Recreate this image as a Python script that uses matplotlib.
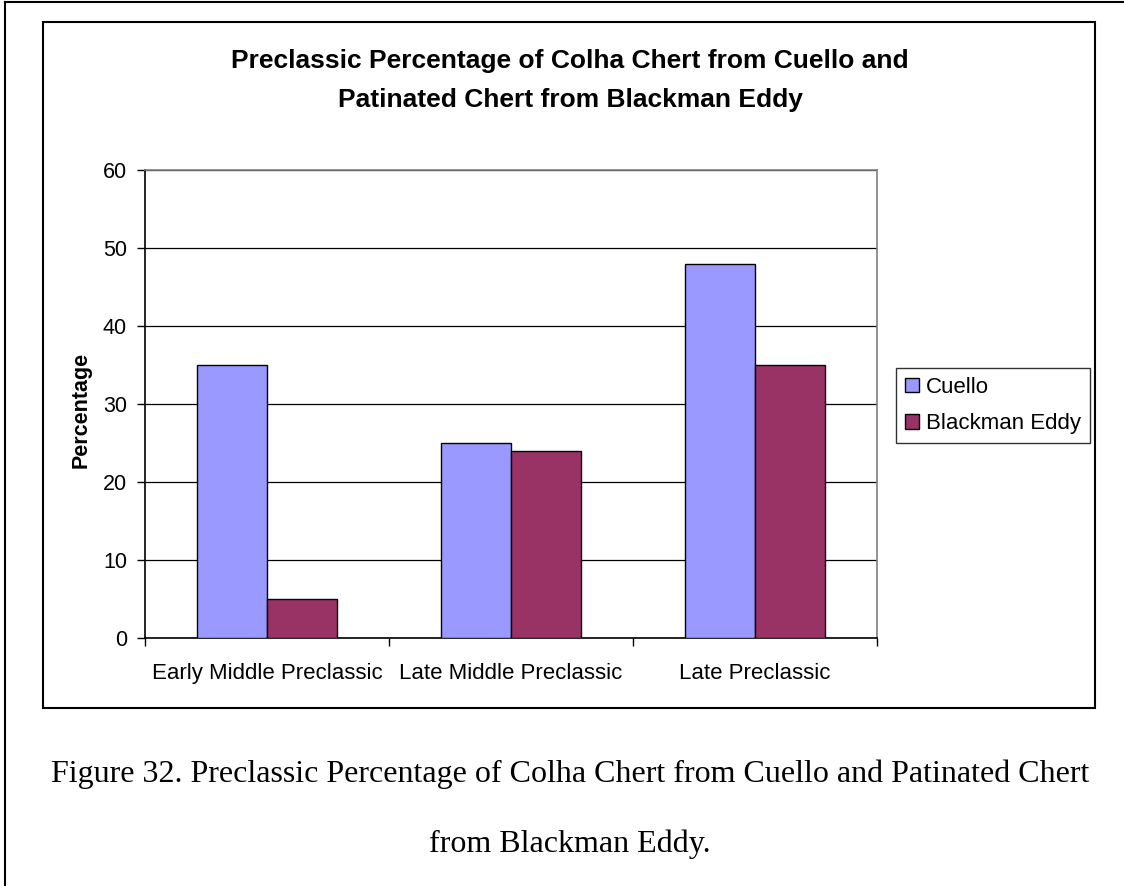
import numpy as np
import matplotlib
matplotlib.use('Agg')
import matplotlib.pyplot as plt
from matplotlib.patches import Rectangle
from matplotlib.lines import Line2D

W, H = 1124, 886

categories = ['Early Middle Preclassic', 'Late Middle Preclassic', 'Late Preclassic']
cuello = [35, 25, 48]
blackman = [5, 24, 35]
series_names = ['Cuello', 'Blackman Eddy']
colors = ['#9999FF', '#993366']
yticks = [0, 10, 20, 30, 40, 50, 60]

title1 = 'Preclassic Percentage of Colha Chert from Cuello and'
title2 = 'Patinated Chert from Blackman Eddy'
caption1 = 'Figure 32. Preclassic Percentage of Colha Chert from Cuello and Patinated Chert'
caption2 = 'from Blackman Eddy.'

plt.rcParams['font.family'] = ['Liberation Sans', 'DejaVu Sans']

fig = plt.figure(figsize=(W / 100, H / 100), dpi=100)

def fx(px):
    return px / W

def fy(py):
    return 1 - py / H

# page frame (top and left edge)
fig.add_artist(Line2D([fx(5), fx(1124)], [fy(2), fy(2)], color='black', lw=1.5))
fig.add_artist(Line2D([fx(5), fx(5)], [fy(2), fy(886)], color='black', lw=1.5))

# chart box
fig.add_artist(Rectangle((fx(43), fy(708)), fx(1095) - fx(43), fy(22) - fy(708),
                         fill=False, edgecolor='black', lw=1.5))

ax = fig.add_axes([fx(145), fy(638), fx(877) - fx(145), fy(170) - fy(638)])

x = np.arange(len(categories)) + 0.5
bw = 70 / 244
ax.bar(x - bw / 2, cuello, bw, color=colors[0], edgecolor='black', lw=1, label=series_names[0], zorder=3)
ax.bar(x + bw / 2, blackman, bw, color=colors[1], edgecolor='black', lw=1, label=series_names[1], zorder=3)

ax.set_xlim(0, 3)
ax.set_ylim(0, 60)
ax.set_yticks(yticks)
ax.yaxis.grid(True, color='black', lw=0.9, zorder=0)
ax.set_axisbelow(True)

ax.set_xticks([0, 1, 2, 3])
ax.set_xticklabels([])
ax.set_xticks(x, minor=True)
ax.set_xticklabels(categories, minor=True, fontsize=16)
ax.tick_params(axis='x', which='minor', length=0, pad=18)
ax.tick_params(axis='x', which='major', length=6, direction='out', width=1)
ax.tick_params(axis='y', length=6, direction='out', labelsize=15.5, pad=7, width=1)

for s in ['top', 'right']:
    ax.spines[s].set_color('#808080')
    ax.spines[s].set_linewidth(1.2)
for s in ['left', 'bottom']:
    ax.spines[s].set_color('black')
    ax.spines[s].set_linewidth(1.2)

ax.set_ylabel('Percentage', fontsize=15.5, fontweight='bold')
ax.yaxis.set_label_coords(fx(92), fy(410), transform=fig.transFigure)

fig.text(fx(570), fy(61), title1, ha='center', va='center', fontsize=19, fontweight='bold')
fig.text(fx(570), fy(100), title2, ha='center', va='center', fontsize=19, fontweight='bold')

leg = ax.legend(loc='upper left', bbox_to_anchor=(fx(896), fy(368)), bbox_transform=fig.transFigure,
                fontsize=16, frameon=True, fancybox=False, handlelength=0.65, handleheight=0.65,
                handletextpad=0.3, borderpad=0.4, labelspacing=0.7, borderaxespad=0)
leg.get_frame().set_edgecolor('black')
leg.get_frame().set_linewidth(1)

fig.text(fx(570), fy(774), caption1, ha='center', va='center', fontsize=23,
         family=['Liberation Serif', 'DejaVu Serif'])
fig.text(fx(570), fy(844), caption2, ha='center', va='center', fontsize=23,
         family=['Liberation Serif', 'DejaVu Serif'])

fig.savefig('out.png', dpi=100)
